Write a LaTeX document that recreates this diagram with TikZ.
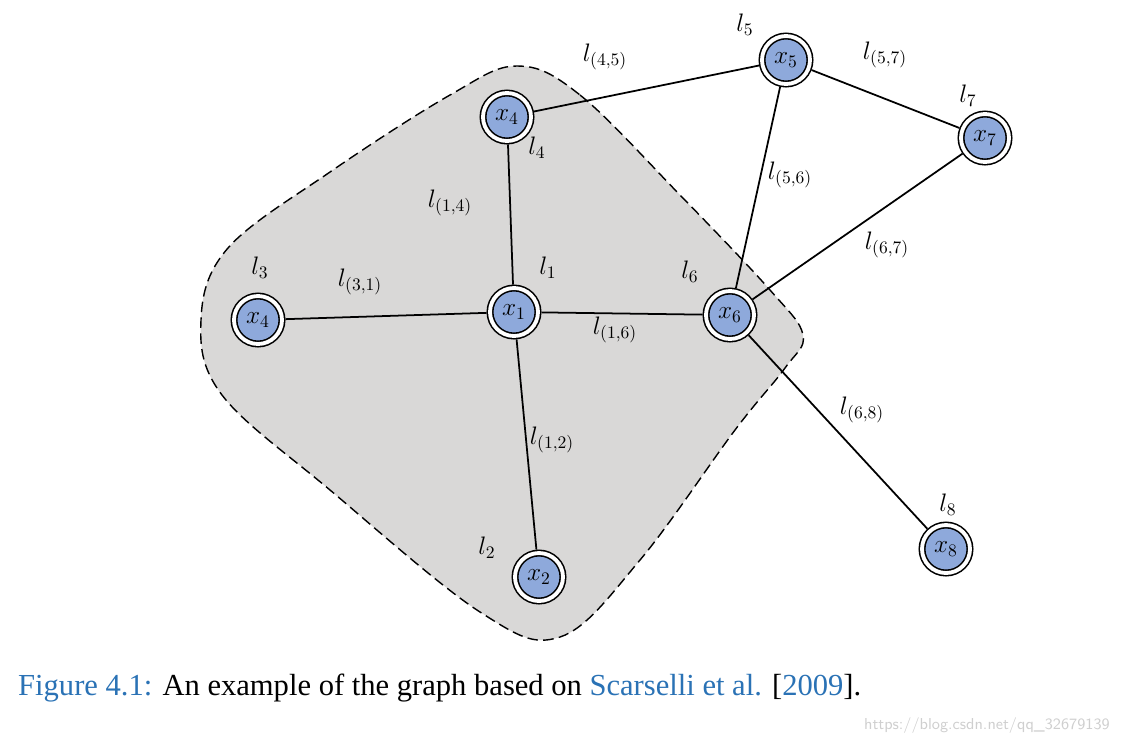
\documentclass[tikz,border=0pt]{standalone}
\usepackage{amsmath}
\usepackage{fontspec}
\newfontfamily\capfont{Liberation Serif}
\usepackage{tikz}
\usetikzlibrary{calc}
\definecolor{nodeblue}{HTML}{8EA9DB}
\definecolor{blobgray}{HTML}{D9D8D7}
\definecolor{citeblue}{HTML}{2A72B5}
\definecolor{markgray}{HTML}{CFCFCF}

\begin{document}
\begin{tikzpicture}[x=0.02cm, y=-0.02cm,
  vertex/.style={circle, draw, fill=nodeblue, double=white, line width=0.9pt,
    double distance=2.2pt, minimum size=0.96cm, inner sep=0pt, outer sep=2pt,
    font=\fontsize{14.5}{17}\selectfont},
  lab/.style={font=\fontsize{14}{16}\selectfont},
  edge/.style={line width=1pt}]
  \useasboundingbox (0,0) rectangle (1122,745);
  % shaded neighbourhood of x_1
  \draw[fill=blobgray, dashed, line width=0.8pt, dash pattern=on 6pt off 3pt]
    plot[smooth cycle, tension=0.6] coordinates {(517,66) (580,95) (680,195) (770,290)
      (803,335) (785,368) (735,430) (640,560) (560,637) (480,612) (330,490)
      (222,395) (201,320) (228,248) (330,172) (450,95)};
  % vertices
  \node[vertex] (x1) at (514,312) {$x_1$};
  \node[vertex] (x2) at (539,577) {$x_2$};
  \node[vertex] (x3) at (258,320) {$x_4$};
  \node[vertex] (x4) at (507,117) {$x_4$};
  \node[vertex] (x5) at (786,60) {$x_5$};
  \node[vertex] (x6) at (730,315) {$x_6$};
  \node[vertex] (x7) at (985,138) {$x_7$};
  \node[vertex] (x8) at (946,549) {$x_8$};
  % edges
  \draw[edge] (x1) -- (x3);
  \draw[edge] (x1) -- (x4);
  \draw[edge] (x1) -- (x6);
  \draw[edge] (x1) -- (x2);
  \draw[edge] (x4) -- (x5);
  \draw[edge] (x5) -- (x6);
  \draw[edge] (x5) -- (x7);
  \draw[edge] (x6) -- (x7);
  \draw[edge] (x6) -- (x8);
  % vertex labels
  \node[lab] (l1) at (548,268) {$l_1$};
  \node[lab] (l2) at (487,548) {$l_2$};
  \node[lab] (l3) at (260,268) {$l_3$};
  \node[lab] (l4) at (537,148) {$l_4$};
  \node[lab] (l5) at (745,25) {$l_5$};
  \node[lab] (l6) at (690,272) {$l_6$};
  \node[lab] (l7) at (968,96) {$l_7$};
  \node[lab] (l8) at (948,505) {$l_8$};
  % edge labels
  \node[lab] (l31) at (360,282) {$l_{(3,1)}$};
  \node[lab] (l14) at (450,203) {$l_{(1,4)}$};
  \node[lab] (l16) at (615,330) {$l_{(1,6)}$};
  \node[lab] (l12) at (552,440) {$l_{(1,2)}$};
  \node[lab] (l45) at (605,57) {$l_{(4,5)}$};
  \node[lab] (l56) at (790,175) {$l_{(5,6)}$};
  \node[lab] (l57) at (885,55) {$l_{(5,7)}$};
  \node[lab] (l67) at (887,245) {$l_{(6,7)}$};
  \node[lab] (l68) at (862,410) {$l_{(6,8)}$};
  % caption
  \node[anchor=west, font=\capfont\fontsize{17.4}{20}\selectfont] (cap) at (12,688)
    {\textcolor{citeblue}{Figure 4.1:} An example of the graph based on
     \textcolor{citeblue}{Scarselli et al.} [\textcolor{citeblue}{2009}].};
  \node[anchor=east, text=markgray, font=\sffamily\fontsize{9}{10}\selectfont] (mark) at (1116,726)
    {https://blog.csdn.net/qq\_32679139};
\end{tikzpicture}
\end{document}
